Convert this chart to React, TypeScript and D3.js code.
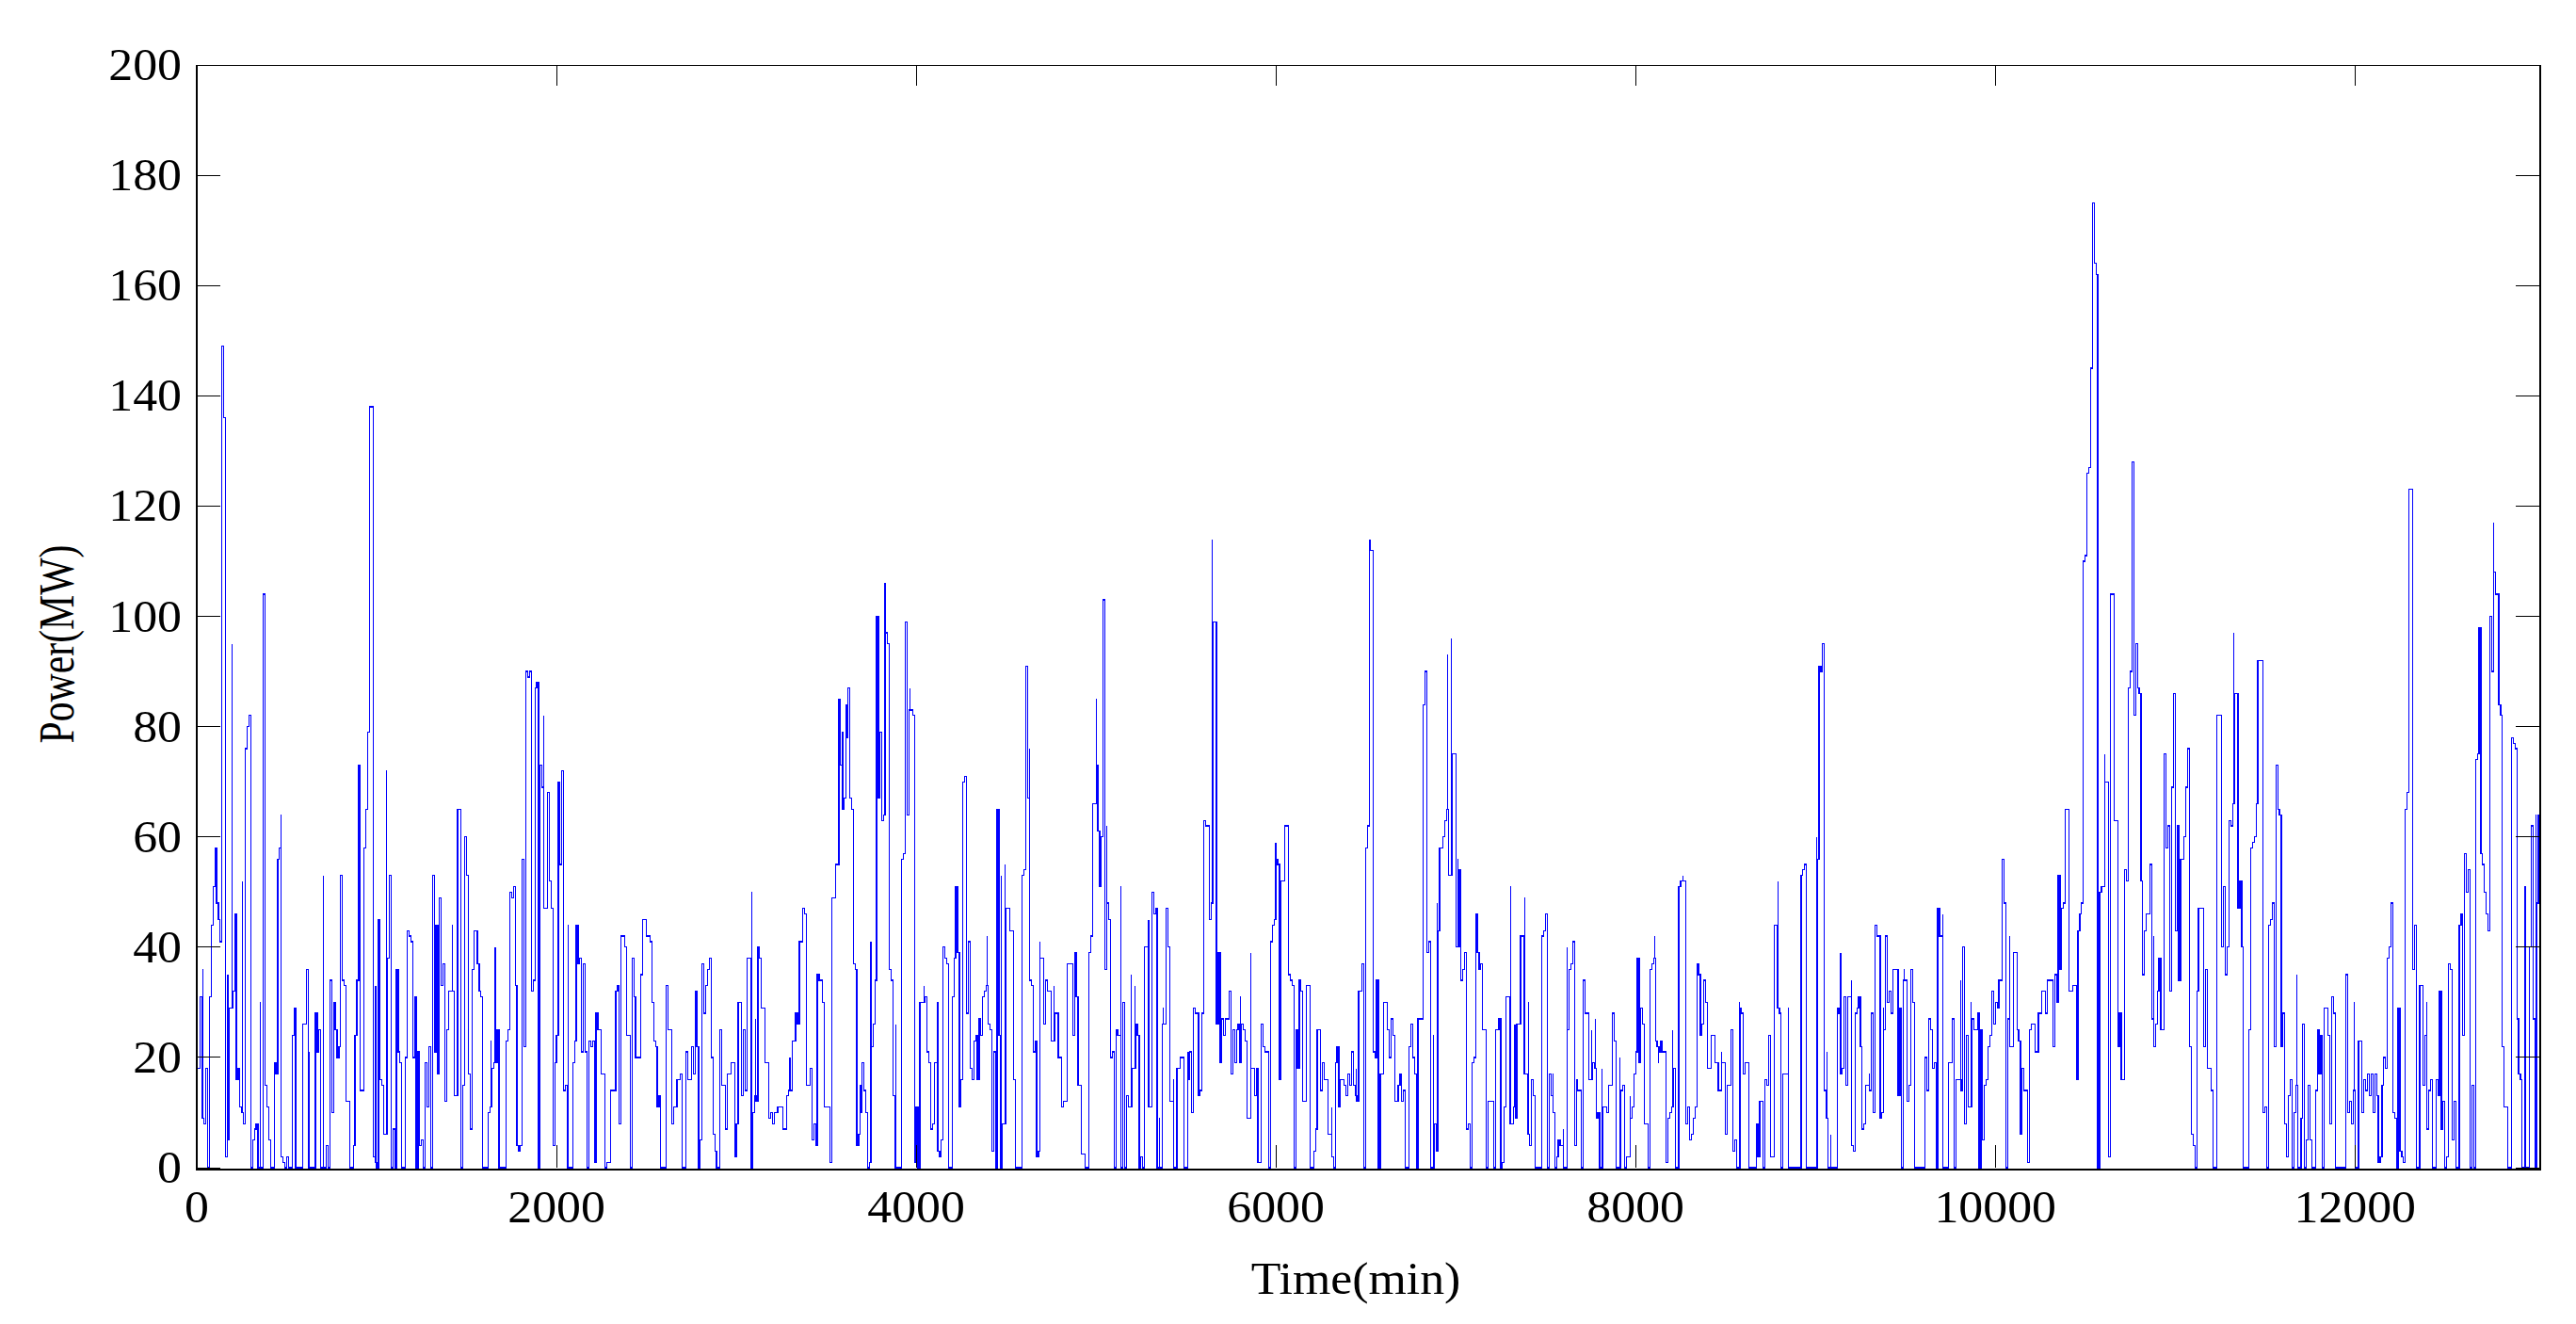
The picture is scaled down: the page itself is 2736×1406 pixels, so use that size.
import * as d3 from "d3";
import { useEffect, useRef } from "react";

const sampleMinutes = 10;
const power0000 = [
  18, 18, 31, 9, 8, 18, 0, 31, 44, 51, 58, 48, 45, 41, 149, 136, 2, 5, 29, 29,
  32, 46, 16, 18, 11, 10, 8, 76, 80, 82, 0, 5, 7, 8, 0, 0, 0, 104, 15, 11,
  5, 0, 0, 19, 17, 56, 58, 2, 1, 0, 2, 0, 0, 24, 29, 0, 0, 0, 0, 26,
  26, 36, 0, 0, 0, 0, 28, 21, 25, 0, 0, 0, 4, 0, 34, 10, 30, 25, 20, 22,
  53, 34, 33, 12, 12, 0, 0, 4, 24, 34, 73, 14, 14, 58, 65, 79, 138, 138, 2, 1,
];
const power1000 = [
  0, 45, 16, 15, 6, 6, 38, 53, 0, 7, 0, 36, 21, 19, 0, 0, 20, 43, 42, 41,
  20, 31, 0, 21, 4, 5, 0, 19, 11, 22, 0, 53, 21, 44, 17, 49, 33, 37, 12, 25,
  32, 32, 32, 13, 13, 65, 65, 0, 15, 60, 53, 17, 7, 36, 43, 43, 37, 32, 31, 0,
  0, 0, 10, 11, 18, 19, 19, 25, 0, 0, 0, 0, 23, 25, 50, 49, 51, 33, 4, 3,
  4, 56, 22, 90, 89, 90, 32, 34, 87, 88, 0, 73, 69, 47, 47, 68, 52, 47, 4, 19,
];
const power2000 = [
  24, 70, 55, 72, 14, 15, 0, 0, 0, 19, 23, 44, 37, 38, 21, 37, 21, 0, 23, 22,
  23, 1, 28, 25, 25, 17, 17, 0, 1, 1, 14, 14, 14, 32, 33, 8, 42, 42, 40, 24,
  24, 0, 38, 31, 20, 20, 20, 35, 45, 45, 42, 42, 41, 30, 23, 22, 11, 13, 0, 0,
  0, 33, 25, 25, 8, 11, 11, 16, 16, 17, 0, 0, 21, 16, 16, 22, 17, 32, 22, 0,
  5, 37, 28, 33, 36, 38, 20, 6, 3, 0, 0, 25, 15, 15, 7, 17, 17, 19, 19, 2,
];
const power3000 = [
  8, 30, 30, 13, 25, 14, 38, 38, 0, 10, 13, 12, 40, 38, 29, 29, 19, 19, 9, 10,
  8, 10, 10, 11, 11, 11, 7, 7, 13, 14, 14, 23, 23, 28, 26, 41, 41, 47, 46, 15,
  15, 18, 5, 8, 4, 35, 34, 34, 30, 11, 11, 11, 1, 49, 49, 55, 55, 85, 73, 65,
  67, 78, 87, 67, 65, 37, 36, 4, 6, 10, 19, 14, 10, 0, 1, 22, 26, 34, 100, 67,
  79, 63, 64, 97, 95, 36, 34, 13, 0, 0, 0, 0, 56, 57, 99, 64, 83, 83, 82, 1,
];
const power4000 = [
  11, 0, 30, 30, 30, 31, 21, 19, 7, 8, 19, 19, 3, 2, 5, 40, 38, 37, 0, 0,
  31, 38, 51, 39, 11, 16, 70, 71, 28, 41, 18, 16, 23, 24, 16, 27, 24, 31, 32, 33,
  26, 25, 3, 21, 0, 65, 24, 0, 8, 8, 47, 47, 43, 43, 16, 0, 0, 0, 0, 53,
  54, 91, 67, 34, 33, 21, 23, 2, 3, 38, 38, 26, 34, 32, 32, 23, 23, 28, 28, 20,
  20, 11, 12, 12, 37, 37, 37, 24, 39, 31, 15, 15, 2.5, 2.5, 0, 0, 39, 42, 66, 66,
];
const power5000 = [
  73, 61, 51, 60, 103, 36, 48, 45, 20, 21, 0, 25, 24, 24, 0, 30, 0, 13, 11, 11,
  18, 18, 26, 24, 0, 2, 0, 40, 40, 11, 11, 50, 46, 47, 0, 0, 0, 26, 26, 47,
  40, 12, 12, 0, 0, 18, 18, 20, 20, 0, 0, 16, 21, 10, 29, 28, 28, 13, 14, 28,
  63, 62, 62, 45, 48, 99, 99, 26, 39, 19, 27, 24, 27, 27, 32, 17, 25, 19, 25, 26,
  19, 26, 25, 23, 9, 9, 18, 18, 13, 18, 1, 1, 26, 22, 21, 21, 0, 41, 44, 45,
];
const power6000 = [
  56, 55, 16, 52, 52, 62, 62, 35, 34, 33, 0, 25, 18, 34, 32, 12, 12, 33, 33, 0,
  0, 3, 7, 25, 25, 14, 19, 16, 16, 6, 6, 2, 0, 19, 22, 11, 16, 16, 15, 13,
  17, 15, 21, 15, 13, 12, 32, 32, 37, 0, 58, 62, 112, 112, 21, 20, 34, 0, 17, 17,
  30, 30, 25, 20, 27, 24, 12, 12, 15, 17, 12, 14, 0, 0, 22, 26, 20, 17, 0, 27,
  27, 27, 84, 90, 39, 41, 0, 0, 8, 3, 43, 58, 58, 60, 63, 65, 53, 53, 75, 75,
];
const power7000 = [
  40, 40, 54, 34, 36, 39, 7, 8, 0, 19, 20, 46, 39, 36, 37, 25, 25, 0, 12, 12,
  12, 0, 25, 25, 27, 0, 1, 11, 31, 31, 8, 8, 11, 9, 26, 26, 42, 42, 17, 17,
  6, 4, 16, 13, 0, 0, 0, 0, 42, 43, 46, 0, 17, 13, 10, 0, 2, 5, 4, 4,
  0, 0, 25, 36, 37, 41, 4, 14, 14, 14, 0, 34, 28, 28, 16, 16, 19, 18, 9, 10,
  0, 0, 11, 11, 10, 15, 15, 28, 23, 0, 0, 0, 14, 15, 0, 2, 2, 9, 11, 17,
];
const power8000 = [
  21, 38, 19, 29, 26, 8, 8, 0, 36, 37, 38, 23, 22, 21, 23, 21, 21, 1, 9, 10,
  11, 18, 0, 0, 51, 52, 52, 52, 8, 11, 5, 6, 9, 11, 37, 35, 24, 26, 34, 30,
  18, 18, 24, 24, 19, 19, 14, 14, 19, 19, 6, 15, 15, 25, 3, 5, 0, 0, 29, 28,
  17, 19, 19, 0, 0, 0, 0, 8, 2, 12, 12, 0, 16, 15, 24, 2, 2, 44, 44, 29,
  28, 0, 17, 17, 17, 0, 0, 0, 0, 0, 0, 0, 53, 54, 55, 0, 0, 0, 0, 0,
];
const power9000 = [
  0, 56, 91, 90, 95, 14, 9, 0, 0, 0, 0, 0, 29, 28, 17, 18, 31, 15, 31, 31,
  4, 3, 28, 29, 31, 22, 7, 8, 15, 15, 14, 28, 10, 44, 42, 42, 9, 10, 25, 42,
  30, 32, 28, 36, 36, 36, 13, 29, 0, 34, 34, 12, 15, 36, 30, 0, 0, 0, 0, 0,
  0, 20, 14, 27, 25, 18, 19, 0, 47, 42, 42, 0, 0, 0, 19, 19, 27, 0, 16, 16,
  16, 14, 40, 8, 24, 11, 11, 27, 25, 25, 28, 0, 25, 5, 15, 16, 22, 24, 32, 26,
];
const power10000 = [
  30, 29, 34, 34, 56, 48, 0, 27, 22, 22, 39, 39, 25, 23, 6, 18, 14, 14, 1, 25,
  26, 26, 21, 21, 28, 28, 32, 32, 28, 34, 34, 34, 22, 35, 30, 53, 36, 47, 48, 65,
  65, 32, 32, 33, 33, 16, 43, 46, 48, 110, 111, 126, 127, 145, 175, 164, 162, 0, 50, 51,
  51, 70, 70, 2, 104, 104, 63, 63, 22, 28, 16, 16, 54, 52, 87, 90, 128, 82, 95, 87,
  86, 52, 35, 43, 46, 46, 55, 27, 22, 26, 32, 38, 25, 25, 75, 58, 62, 32, 69, 86,
];
const power11000 = [
  43, 62, 34, 56, 56, 60, 69, 76, 22, 6, 4, 0, 32, 47, 47, 47, 22, 36, 18, 18,
  14, 0, 0, 82, 82, 82, 40, 51, 35, 40, 63, 62, 66, 86, 86, 47, 52, 40, 0, 0,
  0, 25, 58, 59, 60, 66, 92, 92, 92, 10, 11, 0, 44, 45, 48, 22, 73, 65, 64, 22,
  28, 8, 2, 13, 16, 0, 10, 15, 0, 0, 9, 26, 0, 5, 15, 5, 0, 0, 14, 25,
  17, 24, 0, 29, 29, 24, 8, 31, 28, 0, 0, 0, 0, 0, 0, 35, 10, 12, 8, 14,
];
const power12000 = [
  0, 0, 23, 23, 10, 16, 14, 17, 13, 17, 10, 17, 13, 1, 2, 15, 20, 18, 38, 40,
  48, 10, 9, 0, 29, 3, 2, 1, 65, 68, 123, 123, 36, 44, 0, 0, 33, 33, 15, 24,
  7, 14, 16, 0, 0, 16, 13, 32, 7, 12, 0, 2, 37, 36, 5, 12, 0, 0, 44, 46,
  24, 57, 50, 54, 0, 15, 0, 74, 75, 98, 57, 55, 50, 46, 43, 100, 90, 108, 104, 104,
  84, 82, 22, 11, 11, 0, 0, 78, 77, 76, 27, 17, 16, 0, 0, 0, 0, 40, 62, 27, 0, 48, 64,
];

// Short one-minute spikes that stand above the 10 min samples.
const spikeTimes = [
  33, 173, 195, 253, 353, 467, 625, 703, 995, 1053, 1269, 1423, 1637, 1659, 1929, 2065,
  3084, 3105, 3298, 3591, 3612, 3691, 3748, 3827, 3885, 3965, 4043, 4120, 4216,
  4395, 4473, 4494, 4630, 4688, 4766, 5002, 5060, 5138, 5197, 5217, 5293, 5353,
  5372, 5430, 5512, 5646, 5704, 5803, 5861, 5999, 6311, 6447,
  6523, 6876, 6898, 6956, 6975, 7012, 7305, 7329, 7383, 7404, 7539, 7598, 7619,
  7675, 7755, 7776, 7815, 7914, 7970, 8108, 8129, 8207, 8263, 8478, 8556, 8577, 8792,
  8849, 9006, 9065, 9084, 9140, 9200, 9299, 9379, 9493, 9707, 9807, 9864,
  10080, 10608, 10880, 11328, 11678, 11994, 12400, 12638, 12772, 12946, 13006,
];
const spikePeaks = [
  36, 35, 95, 52, 30, 64, 21, 53, 33, 72, 19, 44, 23, 40, 82, 44,
  50, 27, 20, 79, 84, 15, 41, 106, 26, 87, 33, 30, 51,
  42, 53, 55, 76, 41, 33, 85, 62, 51, 35, 33, 45, 9,
  29, 16, 21, 114, 27, 31, 39, 59, 11, 18,
  114, 24, 48, 93, 96, 56, 51, 26, 49, 30, 17, 7, 40,
  16, 25, 27, 18, 20, 13, 42, 19, 25, 53, 21, 5, 30, 52,
  29, 60, 21, 6, 39, 34, 17, 29, 36, 46, 34, 30,
  42, 75, 42, 97, 35, 30, 30, 28, 117, 51, 64,
];

const xTicks = [0, 2000, 4000, 6000, 8000, 10000, 12000];
const yTicks = [0, 20, 40, 60, 80, 100, 120, 140, 160, 180, 200];
const xMax = 13030;
const yMax = 200;

const width = 2736;
const height = 1406;
const plotLeft = 209;
const plotRight = 2698;
const plotTop = 69;
const plotBottom = 1240;
const fontFamily = '"Liberation Serif", serif';
const fontSize = 48;
// The source picture was stretched sideways, so its type is wider than it is tall.
const stretchX = 1.08;
const yLabelSquash = 0.87;

const App = () => {
  const svgRef = useRef<SVGSVGElement | null>(null);

  useEffect(() => {
    if (!svgRef.current) return;
    const svg = d3.select(svgRef.current);
    svg.selectAll("*").remove();

    const x = d3.scaleLinear().domain([0, xMax]).range([plotLeft, plotRight]);
    const y = d3.scaleLinear().domain([0, yMax]).range([plotBottom, plotTop]);

    const power = [
      ...power0000, ...power1000, ...power2000, ...power3000, ...power4000,
      ...power5000, ...power6000, ...power7000, ...power8000, ...power9000,
      ...power10000, ...power11000, ...power12000,
    ];

    svg
      .append("clipPath")
      .attr("id", "plot-clip")
      .append("rect")
      .attr("x", plotLeft)
      .attr("y", plotTop)
      .attr("width", plotRight - plotLeft)
      .attr("height", plotBottom - plotTop + 3);

    // Series: stepped line plus the narrow spikes.
    const line = d3
      .line<number>()
      .x((_d, i) => x(i * sampleMinutes))
      .y((d) => y(d))
      .curve(d3.curveStepAfter);

    const series = svg
      .append("g")
      .attr("clip-path", "url(#plot-clip)")
      .attr("shape-rendering", "crispEdges");
    series
      .append("path")
      .attr("d", line(power))
      .attr("fill", "none")
      .attr("stroke", "#0000ff")
      .attr("stroke-width", 1.2);
    series
      .selectAll("line")
      .data(spikeTimes)
      .join("line")
      .attr("x1", (d) => x(d))
      .attr("x2", (d) => x(d))
      .attr("y1", (d) => y(power[Math.floor(d / sampleMinutes)] ?? 0))
      .attr("y2", (_d, i) => y(spikePeaks[i]))
      .attr("stroke", "#0000ff")
      .attr("stroke-width", 1.2);

    // Inward ticks on all four sides, MATLAB style.
    const tickGroup = svg
      .append("g")
      .attr("stroke", "#000")
      .attr("stroke-width", 1)
      .attr("shape-rendering", "crispEdges");
    xTicks.forEach((t) => {
      tickGroup.append("line").attr("x1", x(t)).attr("x2", x(t)).attr("y1", plotBottom).attr("y2", plotBottom - 24);
      tickGroup.append("line").attr("x1", x(t)).attr("x2", x(t)).attr("y1", plotTop).attr("y2", plotTop + 22);
    });
    yTicks.forEach((t) => {
      tickGroup.append("line").attr("x1", plotLeft).attr("x2", plotLeft + 25).attr("y1", y(t)).attr("y2", y(t));
      tickGroup.append("line").attr("x1", plotRight).attr("x2", plotRight - 26).attr("y1", y(t)).attr("y2", y(t));
    });

    // Box: the left, right and bottom edges are heavier than the top.
    const box = svg.append("g").attr("stroke", "#000").attr("shape-rendering", "crispEdges");
    box.append("line").attr("x1", plotLeft).attr("x2", plotRight).attr("y1", plotTop).attr("y2", plotTop).attr("stroke-width", 1);
    box.append("line").attr("x1", plotLeft).attr("x2", plotLeft).attr("y1", plotTop).attr("y2", plotBottom + 3).attr("stroke-width", 2);
    box.append("line").attr("x1", plotRight).attr("x2", plotRight).attr("y1", plotTop).attr("y2", plotBottom + 3).attr("stroke-width", 2);
    box.append("line").attr("x1", plotLeft).attr("x2", plotRight).attr("y1", plotBottom + 1.5).attr("y2", plotBottom + 1.5).attr("stroke-width", 2);

    const labels = svg
      .append("g")
      .attr("font-family", fontFamily)
      .attr("font-size", fontSize)
      .attr("fill", "#000");
    labels
      .selectAll("text.x-tick")
      .data(xTicks)
      .join("text")
      .attr("class", "x-tick")
      .attr("transform", (d) => `translate(${x(d)},1298) scale(${stretchX},1)`)
      .attr("text-anchor", "middle")
      .text((d) => d);
    labels
      .selectAll("text.y-tick")
      .data(yTicks)
      .join("text")
      .attr("class", "y-tick")
      .attr("transform", (d) => `translate(193,${y(d) + 16}) scale(${stretchX},1)`)
      .attr("text-anchor", "end")
      .text((d) => d);
    labels
      .append("text")
      .attr("transform", `translate(1440,1374) scale(${stretchX},1)`)
      .attr("text-anchor", "middle")
      .text("Time(min)");
    labels
      .append("text")
      .attr("transform", `translate(78,684) scale(${stretchX},${yLabelSquash}) rotate(-90)`)
      .attr("text-anchor", "middle")
      .text("Power(MW)");
  }, []);

  return (
    <svg
      ref={svgRef}
      width={width}
      height={height}
      style={{ position: "absolute", left: 0, top: 0, background: "#fff" }}
    />
  );
};

export default App;
